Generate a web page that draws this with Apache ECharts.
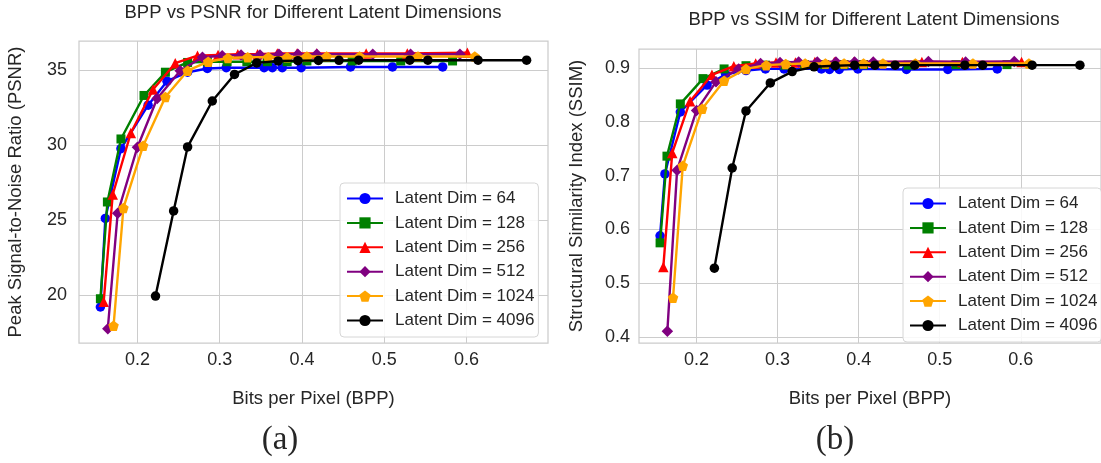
<!DOCTYPE html>
<html>
<head>
<meta charset="utf-8">
<title>BPP vs PSNR / SSIM</title>
<script src="https://cdn.jsdelivr.net/npm/echarts@6/dist/echarts.min.js"></script>
<style>
  html, body { margin: 0; padding: 0; background: #ffffff; }
  #chart { width: 1101px; height: 463px; }
</style>
</head>
<body>
<div id="chart"></div>
<script>
// Bits per pixel for each latent size
const bpp64   = [0.155, 0.161, 0.180, 0.213, 0.236, 0.261, 0.285, 0.308, 0.354, 0.364, 0.376, 0.399, 0.459, 0.510, 0.571];
const bpp128  = [0.155, 0.1635, 0.180, 0.208, 0.234, 0.261, 0.285, 0.309, 0.333, 0.358, 0.382, 0.406, 0.461, 0.520, 0.583];
const bpp256  = [0.159, 0.170, 0.192, 0.219, 0.246, 0.273, 0.298, 0.322, 0.346, 0.370, 0.394, 0.418, 0.478, 0.528, 0.601];
const bpp512  = [0.164, 0.176, 0.200, 0.224, 0.252, 0.279, 0.303, 0.326, 0.349, 0.372, 0.395, 0.418, 0.486, 0.532, 0.592];
const bpp1024 = [0.171, 0.183, 0.207, 0.234, 0.261, 0.286, 0.310, 0.334, 0.359, 0.382, 0.406, 0.430, 0.470, 0.541, 0.610];
const bpp4096 = [0.222, 0.244, 0.261, 0.291, 0.318, 0.345, 0.371, 0.395, 0.420, 0.445, 0.469, 0.531, 0.553, 0.614, 0.673];

// PSNR (dB)
const psnr64   = [19.2, 25.1, 29.75, 32.65, 34.25, 34.85, 35.1, 35.15, 35.15, 35.15, 35.15, 35.15, 35.2, 35.2, 35.2];
const psnr128  = [19.75, 26.2, 30.4, 33.3, 34.85, 35.5, 35.55, 35.55, 35.55, 35.55, 35.55, 35.6, 35.6, 35.6, 35.6];
const psnr256  = [19.55, 26.7, 30.8, 33.7, 35.45, 35.95, 36.0, 36.05, 36.05, 36.1, 36.1, 36.1, 36.1, 36.1, 36.15];
const psnr512  = [17.75, 25.45, 29.85, 33.1, 34.95, 35.85, 35.95, 36.0, 36.0, 36.05, 36.05, 36.05, 36.05, 36.05, 36.05];
const psnr1024 = [17.95, 25.8, 29.95, 33.2, 34.95, 35.55, 35.8, 35.85, 35.85, 35.85, 35.9, 35.9, 35.9, 35.9, 35.9];
const psnr4096 = [19.93, 25.6, 29.87, 32.93, 34.7, 35.47, 35.6, 35.62, 35.63, 35.64, 35.65, 35.65, 35.65, 35.65, 35.65];

// SSIM
const ssim64   = [0.588, 0.703, 0.818, 0.868, 0.888, 0.895, 0.898, 0.898, 0.898, 0.897, 0.897, 0.898, 0.897, 0.897, 0.898];
const ssim128  = [0.575, 0.736, 0.833, 0.880, 0.898, 0.904, 0.905, 0.905, 0.906, 0.906, 0.906, 0.906, 0.905, 0.906, 0.906];
const ssim256  = [0.530, 0.742, 0.838, 0.887, 0.903, 0.908, 0.910, 0.910, 0.911, 0.911, 0.911, 0.911, 0.911, 0.911, 0.911];
const ssim512  = [0.411, 0.710, 0.821, 0.874, 0.898, 0.908, 0.910, 0.911, 0.911, 0.911, 0.911, 0.911, 0.912, 0.911, 0.912];
const ssim1024 = [0.473, 0.718, 0.824, 0.876, 0.898, 0.905, 0.907, 0.908, 0.908, 0.908, 0.908, 0.908, 0.908, 0.908, 0.908];
const ssim4096 = [0.528, 0.714, 0.820, 0.872, 0.893, 0.902, 0.904, 0.905, 0.905, 0.905, 0.905, 0.905, 0.905, 0.905, 0.905];

// Tick labels
const bppTicks  = [0.2, 0.3, 0.4, 0.5, 0.6];
const psnrTicks = [20, 25, 30, 35];
const ssimTicks = [0.4, 0.5, 0.6, 0.7, 0.8, 0.9];

const latentNames = ['Latent Dim = 64', 'Latent Dim = 128', 'Latent Dim = 256',
                     'Latent Dim = 512', 'Latent Dim = 1024', 'Latent Dim = 4096'];

const FONT = "'Liberation Sans', Arial, sans-serif";
const INK = '#262626';
const GRID_GRAY = '#cccccc';
const PENTAGON = 'path://M0,-1 L0.951,-0.309 L0.588,0.809 L-0.588,0.809 L-0.951,-0.309 Z';

const styles = [
  { color: '#0000ff', symbol: 'circle',   size: 9.5 },
  { color: '#008000', symbol: 'rect',     size: 9 },
  { color: '#ff0000', symbol: 'triangle', size: 10.5 },
  { color: '#800080', symbol: 'diamond',  size: 11.5 },
  { color: '#ffa500', symbol: PENTAGON,   size: 10.5 },
  { color: '#000000', symbol: 'circle',   size: 9.5 }
];

const bppSets  = [bpp64, bpp128, bpp256, bpp512, bpp1024, bpp4096];
const psnrSets = [psnr64, psnr128, psnr256, psnr512, psnr1024, psnr4096];
const ssimSets = [ssim64, ssim128, ssim256, ssim512, ssim1024, ssim4096];

function pairs(xs, ys) { return xs.map((x, i) => [x, ys[i]]); }

function lineSeries(i, gridIdx, values) {
  const s = styles[i];
  return {
    name: latentNames[i],
    type: 'line',
    xAxisIndex: gridIdx,
    yAxisIndex: gridIdx,
    data: pairs(bppSets[i], values),
    symbol: s.symbol,
    symbolSize: s.size,
    showAllSymbol: true,
    color: s.color,
    lineStyle: { width: 2.4, color: s.color },
    itemStyle: { color: s.color, borderWidth: 0 },
    emphasis: { disabled: true },
    z: 2 + i
  };
}

const series = [];
for (let i = 0; i < 6; i++) series.push(lineSeries(i, 0, psnrSets[i]));
for (let i = 0; i < 6; i++) series.push(lineSeries(i, 1, ssimSets[i]));

function xAxis(gridIndex, nameGap) {
  return {
    type: 'value', gridIndex: gridIndex, min: 0.129, max: 0.699,
    name: 'Bits per Pixel (BPP)', nameLocation: 'middle', nameGap: nameGap,
    nameTextStyle: { fontFamily: FONT, fontSize: 18.5, color: INK },
    axisLine: { show: false },
    axisTick: { show: false, customValues: bppTicks },
    axisLabel: { customValues: bppTicks, formatter: v => v.toFixed(1),
                 fontFamily: FONT, fontSize: 18, color: INK, margin: 8 },
    splitLine: { show: true, lineStyle: { color: GRID_GRAY, width: 1 } }
  };
}

function yAxis(gridIndex, min, max, ticks, fmt, name, nameGap, margin) {
  return {
    type: 'value', gridIndex: gridIndex, min: min, max: max,
    name: name, nameLocation: 'middle', nameGap: nameGap,
    nameTextStyle: { fontFamily: FONT, fontSize: 18.5, color: INK },
    axisLine: { show: false },
    axisTick: { show: false, customValues: ticks },
    axisLabel: { customValues: ticks, formatter: fmt,
                 fontFamily: FONT, fontSize: 18, color: INK, margin: margin },
    splitLine: { show: true, lineStyle: { color: GRID_GRAY, width: 1 } }
  };
}

function legend(left, top) {
  return {
    data: latentNames, orient: 'vertical', left: left, top: top,
    itemWidth: 36, itemHeight: 14, itemGap: 7.4,
    textStyle: { fontFamily: FONT, fontSize: 17, color: INK, padding: [0, 0, 0, 7] },
    backgroundColor: 'rgba(255,255,255,0.85)',
    borderColor: '#d6d6d6', borderWidth: 1, borderRadius: 4,
    padding: [7, 4, 8, 6],
    selectedMode: false
  };
}

function label(text, x, y, font) {
  return { type: 'text', x: x, y: y, silent: true,
           style: { text: text, font: font, fill: INK, align: 'center', verticalAlign: 'middle' } };
}

const chart = echarts.init(document.getElementById('chart'), null, { renderer: 'canvas' });
chart.setOption({
  animation: false,
  backgroundColor: '#ffffff',
  grid: [
    { left: 79, top: 41, width: 469, height: 302, show: true, borderColor: GRID_GRAY, borderWidth: 1.25, backgroundColor: 'transparent' },
    { left: 639, top: 49, width: 468, height: 294, show: true, borderColor: GRID_GRAY, borderWidth: 1.25, backgroundColor: 'transparent' }
  ],
  xAxis: [xAxis(0, 46), xAxis(1, 46)],
  yAxis: [
    yAxis(0, 16.8, 36.93, psnrTicks, v => String(v), 'Peak Signal-to-Noise Ratio (PSNR)', 54, 12),
    yAxis(1, 0.389, 0.935, ssimTicks, v => v.toFixed(1), 'Structural Similarity Index (SSIM)', 53, 9)
  ],
  legend: [legend(340, 183), legend(903, 188)],
  series: series,
  graphic: [
    label('BPP vs PSNR for Different Latent Dimensions', 313, 13, "18.5px " + FONT),
    label('BPP vs SSIM for Different Latent Dimensions', 874, 20, "18.5px " + FONT),
    label('(a)', 280, 440, "33px 'Liberation Serif', 'DejaVu Serif', serif"),
    label('(b)', 835, 440, "33px 'Liberation Serif', 'DejaVu Serif', serif")
  ]
});
</script>
</body>
</html>
